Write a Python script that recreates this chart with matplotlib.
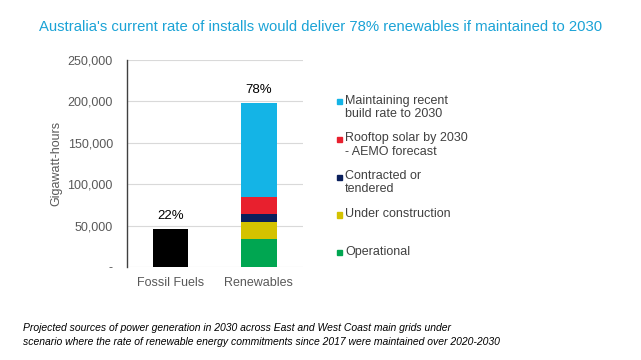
import matplotlib.pyplot as plt
from matplotlib.patches import Rectangle

plt.rcParams['font.family'] = ['Liberation Sans', 'DejaVu Sans']

categories = ['Fossil Fuels', 'Renewables']
fossil = [46000, 0]
segment_names = ['Operational', 'Under construction', 'Contracted or\ntendered',
                 'Rooftop solar by 2030\n- AEMO forecast', 'Maintaining recent\nbuild rate to 2030']
segment_values = [34000, 20000, 10000, 20000, 114000]
segment_colors = ['#00A651', '#D4C200', '#0A1F5C', '#E8202E', '#14B4E6']
shares = ['22%', '78%']
yticks = [0, 50000, 100000, 150000, 200000, 250000]
ytick_labels = ['-', '50,000', '100,000', '150,000', '200,000', '250,000']

fig = plt.figure(figsize=(6.41, 3.6), dpi=100)
ax = fig.add_axes([0.1977, 0.2583, 0.275, 0.575])

x = range(len(categories))
ax.bar(x[0], fossil[0], width=0.4, color='black', zorder=3)
bottom = 0
for v, c in zip(segment_values, segment_colors):
    ax.bar(x[1], v, width=0.4, bottom=bottom, color=c, zorder=3)
    bottom += v

totals = [fossil[0], bottom]
for i, t in enumerate(totals):
    ax.text(i, t + 8000, shares[i], ha='center', va='bottom', fontsize=9.5, color='black')

ax.set_xlim(-0.5, 1.5)
ax.set_ylim(0, 250000)
ax.set_yticks(yticks)
ax.set_yticklabels(ytick_labels)
ax.set_xticks(list(x))
ax.set_xticklabels(categories)
ax.tick_params(axis='both', length=0, labelsize=9, colors='#595959', pad=7)
ax.tick_params(axis='y', pad=10)
ax.grid(axis='y', color='#d9d9d9', linewidth=0.8, zorder=0)
for s in ['top', 'right', 'bottom']:
    ax.spines[s].set_visible(False)
ax.spines['left'].set_color('#404040')
ax.spines['left'].set_linewidth(1.0)
ax.set_ylabel('Gigawatt-hours', fontsize=9, color='#595959', labelpad=4)

# legend entries, top to bottom
W, H = 641, 360
for k, (name, c) in enumerate(zip(segment_names[::-1], segment_colors[::-1])):
    ypix = 101.7 + k * 37.7
    fig.add_artist(Rectangle(((337) / W, 1 - (ypix + 2.7) / H), 5.3 / W, 5.3 / H,
                             transform=fig.transFigure, color=c))
    fig.text(345 / W, 1 - (ypix - 7) / H, name, ha='left', va='top', fontsize=9,
             color='#404040', linespacing=1.15)

fig.text(0.5, 1 - 27 / H,
         "Australia's current rate of installs would deliver 78% renewables if maintained to 2030",
         ha='center', va='center', fontsize=10.75, color='#1BA3D6')

fig.text(23 / W, 1 - 335 / H,
         'Projected sources of power generation in 2030 across East and West Coast main grids under\n'
         'scenario where the rate of renewable energy commitments since 2017 were maintained over 2020-2030',
         ha='left', va='center', fontsize=7.5, style='italic', color='black', linespacing=1.55)

fig.savefig('out.png', dpi=100)
